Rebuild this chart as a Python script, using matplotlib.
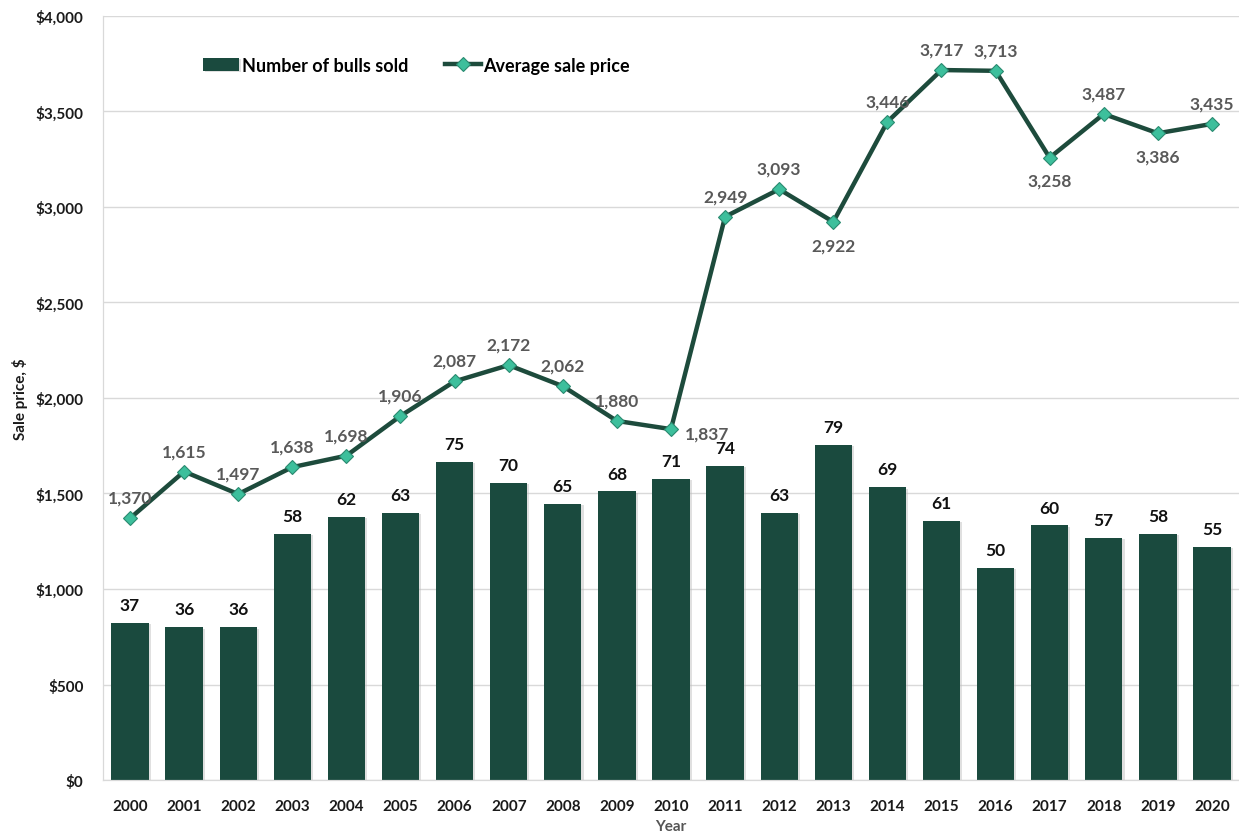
import numpy as np
import matplotlib.pyplot as plt
import matplotlib.patheffects as pe
from matplotlib.ticker import FuncFormatter

plt.rcParams['font.family'] = ['Lato', 'DejaVu Sans']

years = [str(y) for y in range(2000, 2021)]
bulls_sold = [37, 36, 36, 58, 62, 63, 75, 70, 65, 68, 71, 74, 63, 79, 69, 61, 50, 60, 57, 58, 55]
avg_price = [1370, 1615, 1497, 1638, 1698, 1906, 2087, 2172, 2062, 1880, 1837,
             2949, 3093, 2922, 3446, 3717, 3713, 3258, 3487, 3386, 3435]
# where each price label goes relative to its point
label_pos = ['up'] * 21
label_pos[10] = 'right'
label_pos[13] = 'down'
label_pos[17] = 'down'
label_pos[19] = 'down'

bar_color = '#1a4a3e'
line_color = '#1d4b3c'
marker_color = '#3dbf9c'

fig = plt.figure(figsize=(12.39, 8.37), dpi=100)
ax = fig.add_axes([0.0831, 0.0669, 0.9169, 0.9128])
axb = ax.twinx()
ax.set_zorder(2)
axb.set_zorder(1)
ax.patch.set_visible(False)

x = np.arange(len(years))

# bars on the hidden secondary axis
bars = axb.bar(x, bulls_sold, width=0.69, color=bar_color, zorder=2,
               path_effects=[pe.SimplePatchShadow(offset=(1.5, -1), shadow_rgbFace='#bbbbbb', alpha=0.45),
                             pe.Normal()])
axb.set_ylim(0, 180)
axb.set_yticks(np.linspace(0, 180, 9))
axb.yaxis.grid(True, color='#d9d9d9', linewidth=1)
axb.set_axisbelow(True)
axb.tick_params(axis='y', right=False, labelright=False)
for xi, v in zip(x, bulls_sold):
    axb.annotate(str(v), (xi, v), xytext=(0, 7), textcoords='offset points',
                 ha='center', va='bottom', fontsize=12.5, fontweight='bold', color='#111111')

# price line on the primary axis
line, = ax.plot(x, avg_price, color=line_color, linewidth=3.2, marker='D', markersize=7,
                markerfacecolor=marker_color, markeredgecolor='#2a8a70', markeredgewidth=0.8, zorder=3)
offsets = {'up': ((0, 9), 'center', 'bottom'),
           'down': ((0, -11), 'center', 'top'),
           'right': ((10, -3), 'left', 'center')}
for xi, v, p in zip(x, avg_price, label_pos):
    off, ha, va = offsets[p]
    ax.annotate(f'{v:,}', (xi, v), xytext=off, textcoords='offset points',
                ha=ha, va=va, fontsize=12.5, fontweight='bold', color='#595959')

ax.set_xlim(-0.5, len(years) - 0.5)
ax.set_ylim(0, 4000)
ax.set_yticks(np.arange(0, 4001, 500))
ax.yaxis.set_major_formatter(FuncFormatter(lambda v, _: f'${v:,.0f}'))
ax.set_xticks(x)
ax.set_xticklabels(years)
ax.tick_params(axis='both', length=0, labelsize=11, labelcolor='#1a1a1a')
ax.tick_params(axis='x', pad=14)
ax.tick_params(axis='y', pad=14)
for lab in ax.get_xticklabels() + ax.get_yticklabels():
    lab.set_fontweight('bold')

ax.set_ylabel('Sale price, $', fontsize=11, fontweight='bold', color='#1a1a1a', labelpad=5)
ax.set_xlabel('Year', fontsize=11, fontweight='bold', color='#555555', labelpad=4)

for ax_ in (ax, axb):
    for s in ('top', 'right'):
        ax_.spines[s].set_visible(False)
    ax_.spines['left'].set_color('#d9d9d9')
    ax_.spines['bottom'].set_color('#d9d9d9')

leg = ax.legend([bars, line], ['Number of bulls sold', 'Average sale price'],
                loc='upper left', bbox_to_anchor=(0.074, 0.968), ncol=2, frameon=False,
                prop={'weight': 'bold', 'size': 13}, handlelength=2.0, columnspacing=2.0,
                handletextpad=0.15, numpoints=1)

fig.savefig('out.png', dpi=100)
